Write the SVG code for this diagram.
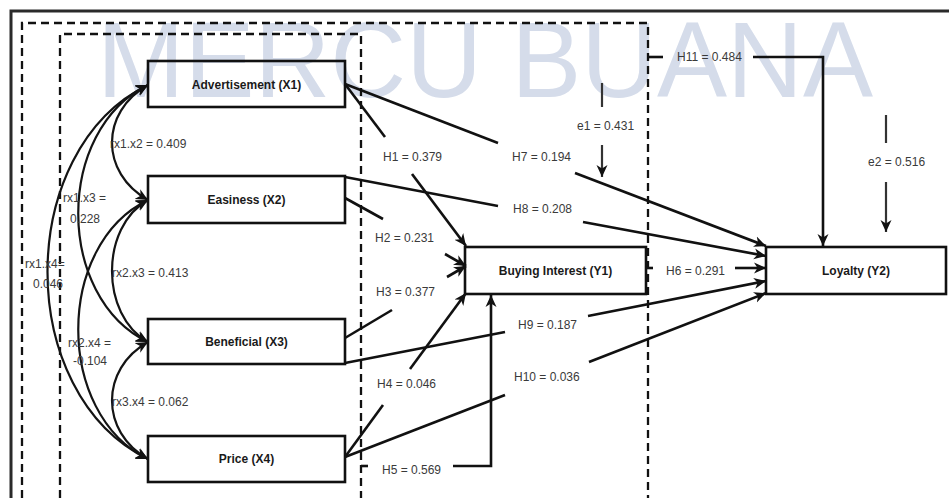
<svg xmlns="http://www.w3.org/2000/svg" width="949" height="498" viewBox="0 0 949 498">
  <style>
    .frame { fill: none; stroke: #2a2a2a; stroke-width: 3; }
    .dash { fill: none; stroke: #111; stroke-width: 2.3; stroke-dasharray: 8 5; }
    .box { fill: none; stroke: #111; stroke-width: 2.6; }
    .node-label { font-family: "Liberation Sans", Arial, sans-serif; font-size: 12px; font-weight: bold; fill: #1a1a1a; text-anchor: middle; }
    .edge-label { font-family: "Liberation Sans", Arial, sans-serif; font-size: 12px; fill: #3a3a3a; }
    .corr { fill: none; stroke: #141414; stroke-width: 2.2; marker-start: url(#arrow); marker-end: url(#arrow); }
    .path { fill: none; stroke: #111; stroke-width: 2.6; }
    .path-end { fill: none; stroke: #111; stroke-width: 2.6; marker-end: url(#arrow); }
    .err { fill: none; stroke: #333; stroke-width: 2.2; }
    .err-end { fill: none; stroke: #333; stroke-width: 2.2; marker-end: url(#arrow); }
    .mark { font-family: "Liberation Sans", Arial, sans-serif; font-size: 108px; fill: #d5dcea; }
  </style>
  <defs>
    <marker id="arrow" markerUnits="userSpaceOnUse" markerWidth="13" markerHeight="12" refX="12" refY="6" orient="auto-start-reverse" viewBox="0 0 13 12">
      <path d="M0,0.5 L12,6 L0,11.5 L3.5,6 Z" fill="#111"/>
    </marker>
  </defs>

  <rect width="949" height="498" fill="#ffffff"/>

  <!-- background lettering -->
  <text class="mark" x="97" y="97" textLength="776" lengthAdjust="spacingAndGlyphs">MERCU BUANA</text>

  <!-- frame and grouping borders -->
  <g id="frame">
    <path class="frame" d="M11,498 V11 H949"/>
    <path class="dash" d="M22,498 V23 H648 V498"/>
    <path class="dash" d="M60,498 V34 H361 V498"/>
  </g>

  <!-- nodes -->
  <g id="node-x1">
    <rect class="box" x="148" y="61" width="197" height="46"/>
    <text class="node-label" x="246.5" y="89">Advertisement (X1)</text>
  </g>
  <g id="node-x2">
    <rect class="box" x="148" y="176" width="197" height="47"/>
    <text class="node-label" x="246.5" y="204">Easiness (X2)</text>
  </g>
  <g id="node-x3">
    <rect class="box" x="148" y="319" width="197" height="45"/>
    <text class="node-label" x="246.5" y="346">Beneficial (X3)</text>
  </g>
  <g id="node-x4">
    <rect class="box" x="148" y="436" width="197" height="46"/>
    <text class="node-label" x="246.5" y="463">Price (X4)</text>
  </g>
  <g id="node-y1">
    <rect class="box" x="465" y="247" width="181" height="47"/>
    <text class="node-label" x="555.5" y="275">Buying Interest (Y1)</text>
  </g>
  <g id="node-y2">
    <rect class="box" x="766" y="247" width="180" height="47"/>
    <text class="node-label" x="856" y="275">Loyalty (Y2)</text>
  </g>

  <!-- connectors -->
  <g id="connectors">
    <!-- correlations between exogenous variables -->
    <path class="corr" d="M148,85 C100,112 100,173 148,200"/>
    <path class="corr" d="M148,85 C55,130 55,297 148,342"/>
    <path class="corr" d="M148,85 C14,150 14,394 148,459"/>
    <path class="corr" d="M148,200 C100,227 100,315 148,342"/>
    <path class="corr" d="M148,200 C55,245 55,414 148,459"/>
    <path class="corr" d="M148,342 C100,369 100,432 148,459"/>

    <!-- paths to Buying Interest -->
    <path class="path" d="M345,84 L385,137"/>
    <path class="path-end" d="M412,174 L466,246"/>
    <path class="path" d="M345,198 L383,219"/>
    <path class="path-end" d="M445,254 L466,266"/>
    <path class="path" d="M345,338 L392,310"/>
    <path class="path-end" d="M447,277 L466,266"/>
    <path class="path" d="M345,457 L383,405"/>
    <path class="path-end" d="M410,369 L466,293"/>
    <path class="path" d="M361,466 H368"/>
    <path class="path-end" d="M453,466 H491 V295"/>

    <!-- paths to Loyalty -->
    <path class="path" d="M345,84 L498,143"/>
    <path class="path-end" d="M575,173 L766,246"/>
    <path class="path" d="M345,177 L498,206"/>
    <path class="path-end" d="M583,222 L766,256"/>
    <path class="path" d="M646,268 H653"/>
    <path class="path-end" d="M735,268 H766"/>
    <path class="path" d="M345,363 L505,332"/>
    <path class="path-end" d="M588,316 L766,281"/>
    <path class="path" d="M345,457 L505,395"/>
    <path class="path-end" d="M589,362 L766,293"/>
    <path class="path" d="M648,57 H663"/>
    <path class="path-end" d="M753,57 H823 V246"/>

    <!-- error terms -->
    <path class="err" d="M602,83 V107"/>
    <path class="err-end" d="M602,145 V177"/>
    <path class="err" d="M886,115 V143"/>
    <path class="err-end" d="M886,182 V232"/>
  </g>

  <!-- coefficients -->
  <g id="labels">
    <text class="edge-label" x="110" y="148">rx1.x2 = 0.409</text>
    <text class="edge-label" x="63" y="202">rx1.x3 =</text>
    <text class="edge-label" x="70" y="223">0.228</text>
    <text class="edge-label" x="25" y="268">rx1.x4=</text>
    <text class="edge-label" x="33" y="288">0.046</text>
    <text class="edge-label" x="112" y="277">rx2.x3 = 0.413</text>
    <text class="edge-label" x="68" y="347">rx2.x4 =</text>
    <text class="edge-label" x="73" y="365">-0.104</text>
    <text class="edge-label" x="112" y="406">rx3.x4 = 0.062</text>

    <text class="edge-label" x="383" y="161">H1 = 0.379</text>
    <text class="edge-label" x="512" y="161">H7 = 0.194</text>
    <text class="edge-label" x="577" y="130">e1 = 0.431</text>
    <text class="edge-label" x="677" y="61">H11 = 0.484</text>
    <text class="edge-label" x="868" y="166">e2 = 0.516</text>
    <text class="edge-label" x="513" y="213">H8 = 0.208</text>
    <text class="edge-label" x="375" y="242">H2 = 0.231</text>
    <text class="edge-label" x="376" y="296">H3 = 0.377</text>
    <text class="edge-label" x="666" y="275">H6 = 0.291</text>
    <text class="edge-label" x="518" y="329">H9 = 0.187</text>
    <text class="edge-label" x="514" y="381">H10 = 0.036</text>
    <text class="edge-label" x="377" y="388">H4 = 0.046</text>
    <text class="edge-label" x="382" y="474">H5 = 0.569</text>
  </g>
</svg>
